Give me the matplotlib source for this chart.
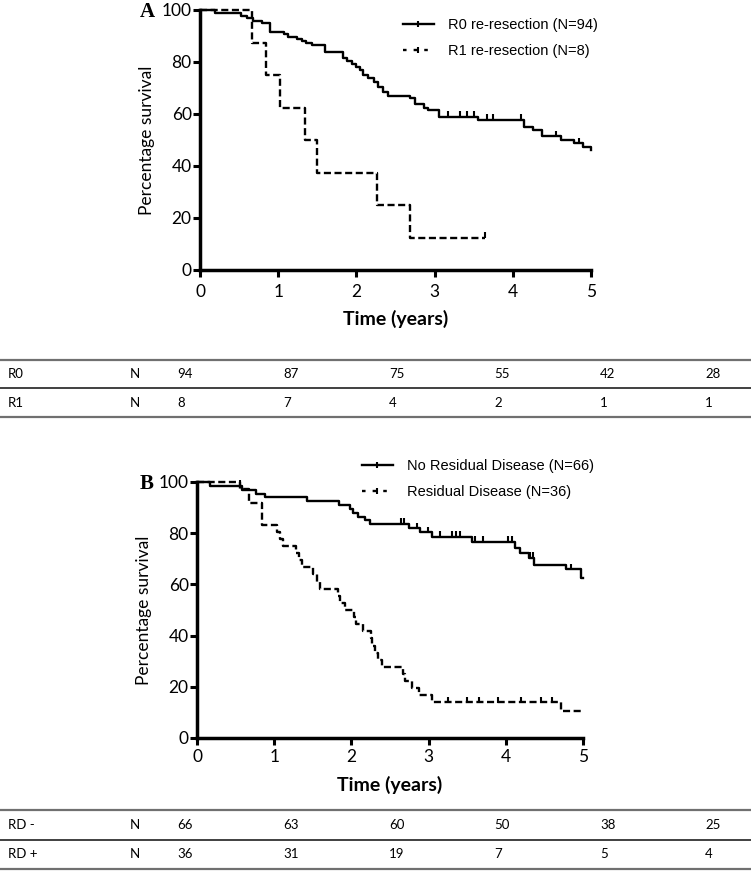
import numpy as np
import matplotlib
matplotlib.use('Agg')
import matplotlib.pyplot as plt
from matplotlib.lines import Line2D

# survival data (years, % survival after each step)
r0_t = [0, 0.19, 0.53, 0.60, 0.68, 0.79, 0.90, 1.07, 1.13, 1.24, 1.30, 1.36, 1.43, 1.60,
        1.83, 1.88, 1.94, 2.00, 2.05, 2.09, 2.15, 2.22, 2.28, 2.34, 2.41, 2.69, 2.75,
        2.86, 2.92, 3.05, 3.56, 4.14, 4.26, 4.37, 4.62, 4.78, 4.90, 5.0]
r0_s = [100, 99.0, 97.8, 96.8, 95.9, 94.9, 91.4, 90.6, 89.7, 88.8, 88.0, 87.2, 86.4, 84.0,
        81.4, 80.4, 79.2, 78.2, 76.9, 75.0, 73.7, 72.4, 70.5, 68.6, 67.0, 66.0, 63.7,
        62.4, 61.5, 59.0, 57.7, 55.1, 53.9, 51.5, 50.0, 48.8, 47.5, 46.0]
r0_cens = [3.17, 3.32, 3.41, 3.50, 3.67, 3.75, 4.10, 4.55, 4.85]

r1_t = [0, 0.67, 0.85, 1.02, 1.34, 1.50, 2.26, 2.69, 3.64]
r1_s = [100, 87.5, 75, 62.5, 50, 37.5, 25, 12.5, 12.5]
r1_cens = [3.64]

nrd_t = [0, 0.17, 0.58, 0.77, 0.88, 1.42, 1.84, 1.98, 2.02, 2.09, 2.18, 2.24, 2.74, 2.89,
         3.04, 3.56, 4.12, 4.18, 4.30, 4.36, 4.78, 4.97, 5.0]
nrd_s = [100, 98.5, 97.0, 95.5, 94.0, 92.4, 90.9, 89.3, 87.8, 86.4, 85.2, 83.6, 81.9, 80.3,
         78.6, 76.7, 74.1, 72.1, 70.3, 67.6, 65.9, 62.5, 62.5]
nrd_cens = [0.56, 2.64, 2.68, 2.85, 2.99, 3.15, 3.30, 3.35, 3.41, 3.60, 3.70, 4.03, 4.08,
            4.31, 4.35, 4.85]

rd_t = [0, 0.56, 0.68, 0.84, 1.04, 1.07, 1.12, 1.28, 1.32, 1.36, 1.50, 1.55, 1.59, 1.82,
        1.85, 1.92, 2.03, 2.06, 2.15, 2.25, 2.27, 2.30, 2.34, 2.40, 2.67, 2.70, 2.78, 2.87,
        3.05, 4.72, 5.0]
rd_s = [100, 97.2, 91.7, 83.3, 80.6, 77.8, 75.0, 72.2, 69.4, 66.7, 63.9, 61.1, 58.3, 55.6,
        52.8, 50.0, 47.2, 44.4, 41.7, 38.9, 36.1, 33.3, 30.6, 27.8, 25.0, 22.2, 19.4, 16.7,
        13.9, 10.4, 10.4]
rd_cens = [3.25, 3.50, 3.65, 3.90, 4.20, 4.45, 4.60]

# numbers at risk
years = [0, 1, 2, 3, 4, 5]
risk_a_labels = ['R0', 'R1']
risk_a = [[94, 87, 75, 55, 42, 28], [8, 7, 4, 2, 1, 1]]
risk_b_labels = ['RD -', 'RD +']
risk_b = [[66, 63, 60, 50, 38, 25], [36, 31, 19, 7, 5, 4]]

W, H = 751, 883
fig = plt.figure(figsize=(W / 100, H / 100), dpi=100)

DASH = (3.0, 1.5)
LW = 1.7


def step_val(t, s, x):
    i = np.searchsorted(t, x, side='right') - 1
    return np.array(s)[i]


def km(ax, t, s, cens, dashed):
    kw = dict(color='black', lw=LW, where='post', clip_on=False)
    if dashed:
        kw['dashes'] = DASH
    ax.step(t, s, **kw)
    cy = [step_val(t, s, c) for c in cens]
    ax.plot(cens, np.array(cy) + 1.0, ls='none', marker='|', ms=5, mew=1.5,
            color='black', clip_on=False)


def style(ax, tickpad):
    ax.set_xlim(0, 5)
    ax.set_ylim(0, 100)
    ax.set_xticks(years)
    ax.set_yticks([0, 20, 40, 60, 80, 100])
    for sp in ['top', 'right']:
        ax.spines[sp].set_visible(False)
    for sp in ['left', 'bottom']:
        ax.spines[sp].set_linewidth(2.5)
    ax.tick_params(axis='both', width=2.2, length=5, direction='out',
                   labelsize=12.5, colors='black')
    ax.tick_params(axis='x', pad=tickpad)
    ax.tick_params(axis='y', pad=1)
    for lab in ax.get_xticklabels() + ax.get_yticklabels():
        lab.set_fontfamily('Lato')
    ax.set_ylabel('Percentage survival', fontsize=12.5, family='Lato', labelpad=5)


def legend(ax, labels, x0, y0):
    h = [Line2D([], [], color='black', lw=LW, marker='|', ms=5, mew=1.5),
         Line2D([], [], color='black', lw=LW, dashes=(1.5, 3.0), marker='|', ms=5, mew=1.5)]
    ax.legend(h, labels, loc='upper left', bbox_to_anchor=(x0 / W, 1 - y0 / H),
              bbox_transform=fig.transFigure, frameon=False, borderpad=0,
              borderaxespad=0, handlelength=2.1, handletextpad=1.0,
              labelspacing=0.85, prop={'family': 'Liberation Sans', 'size': 10.5})


def risk_table(labels, rows, ytop, ystep):
    xs = [177, 283, 389, 494, 600, 705]
    for k in range(3):
        y = 1 - (ytop + k * ystep) / H
        col = '#202020' if k == 1 else '#707070'
        fig.add_artist(Line2D([0, 1], [y, y], color=col, lw=1.2 if k == 1 else 1.6,
                              transform=fig.transFigure))
    for r, (lab, vals) in enumerate(zip(labels, rows)):
        yc = 1 - (ytop + ystep * (r + 0.5)) / H
        fig.text(8 / W, yc, lab, family='Lato', fontsize=9.5, va='center')
        fig.text(130 / W, yc, 'N', family='Lato', fontsize=9.5, va='center')
        for x, v in zip(xs, vals):
            fig.text(x / W, yc, str(v), family='Lato', fontsize=9.5, va='center')


# panel A
axA = fig.add_axes([200 / W, 1 - 270 / H, 391 / W, 260 / H])
km(axA, r0_t, r0_s, r0_cens, False)
km(axA, r1_t, r1_s, r1_cens, True)
style(axA, 5)
axA.set_xlabel('Time (years)', fontsize=14, family='Lato', fontweight='bold', labelpad=7)
legend(axA, ['R0 re-resection (N=94)', 'R1 re-resection (N=8)'], 403, 18)
fig.text(140 / W, 1 - 12 / H, 'A', family='Liberation Serif', fontweight='bold',
         fontsize=15, va='center')
risk_table(risk_a_labels, risk_a, 360, 28.5)

# panel B
axB = fig.add_axes([197 / W, 1 - 738 / H, 386 / W, 256 / H])
km(axB, nrd_t, nrd_s, nrd_cens, False)
km(axB, rd_t, rd_s, rd_cens, True)
style(axB, 3)
axB.set_xlabel('Time (years)', fontsize=14, family='Lato', fontweight='bold', labelpad=8)
legend(axB, ['No Residual Disease (N=66)', 'Residual Disease (N=36)'], 362, 459)
fig.text(140 / W, 1 - 484 / H, 'B', family='Liberation Serif', fontweight='bold',
         fontsize=15, va='center')
risk_table(risk_b_labels, risk_b, 810, 29.5)

fig.savefig('out.png', dpi=100)
